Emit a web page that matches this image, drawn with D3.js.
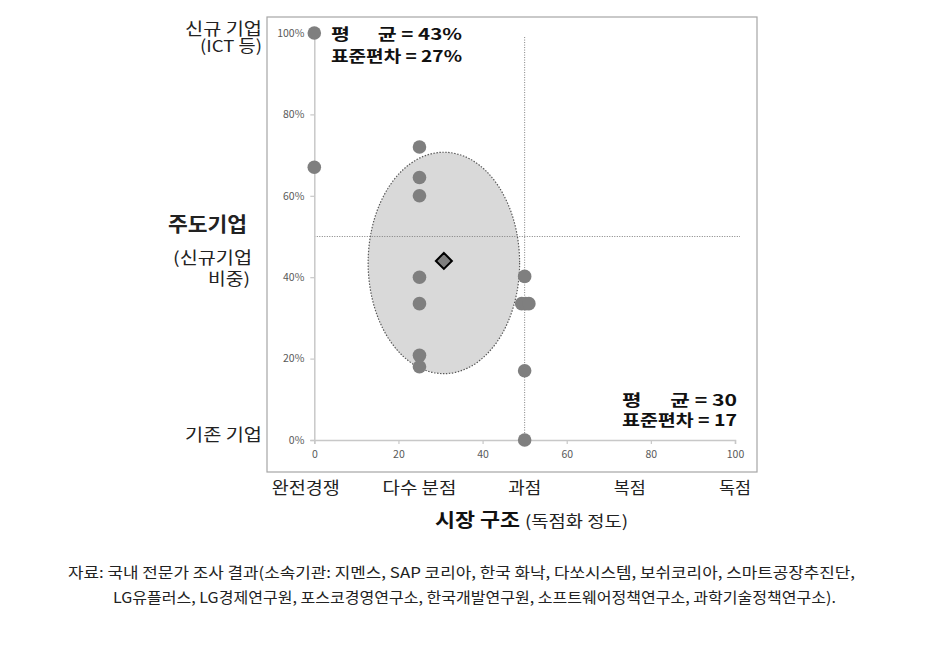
<!DOCTYPE html>
<html>
<head>
<meta charset="utf-8">
<title>시장 구조와 주도기업</title>
<script src="https://d3js.org/d3.v7.min.js"></script>
<style>
  body { margin: 0; background: #fff; }
  text { font-family: "Noto Sans CJK KR", "Noto Sans", sans-serif; }
</style>
</head>
<body>
<div id="chart"></div>
<script>
// survey responses: market structure score (x) and share of new firms (y, %)
const xVals = [0, 0, 25, 25, 25, 25, 25, 25, 25, 50, 49.3, 50.2, 51, 50, 50];
const yVals = [100, 67, 72, 64.5, 60, 40, 33.5, 20.8, 18, 40.2, 33.5, 33.5, 33.5, 17, 0];
const meanPoint = [30.8, 44];
const ellipseCenter = [30.8, 43.5];
const ellipseRadius = [18, 27.2];
const xTicks = [0, 20, 40, 60, 80, 100];
const yTicks = [0, 20, 40, 60, 80, 100];
const categories = ["완전경쟁", "다수 분점", "과점", "복점", "독점"];
const categoryPos = [-2, 25, 50, 75, 100];
const statsY = ["평      균 = 43%", "표준편차 = 27%"];
const statsX = ["평      균 = 30", "표준편차 = 17"];
const sourceLines = [
  "자료: 국내 전문가 조사 결과(소속기관: 지멘스, SAP 코리아, 한국 화낙, 다쏘시스템, 보쉬코리아, 스마트공장추진단,",
  "LG유플러스, LG경제연구원, 포스코경영연구소, 한국개발연구원, 소프트웨어정책연구소, 과학기술정책연구소)."
];

const W = 947, H = 645;
const svg = d3.select("#chart").append("svg").attr("width", W).attr("height", H);

const x = d3.scaleLinear().domain([0, 100]).range([314.3, 735]);
const y = d3.scaleLinear().domain([0, 100]).range([440, 33]);

// outer frame
svg.append("rect").attr("x", 267).attr("y", 17).attr("width", 490).attr("height", 455)
  .attr("fill", "none").attr("stroke", "#a6a6a6").attr("stroke-width", 1.2);

// ellipse (mean ± sd)
svg.append("ellipse")
  .attr("cx", x(ellipseCenter[0])).attr("cy", y(ellipseCenter[1]))
  .attr("rx", x(ellipseRadius[0]) - x(0)).attr("ry", y(0) - y(ellipseRadius[1]))
  .attr("fill", "#d9d9d9").attr("stroke", "#595959").attr("stroke-width", 1.2)
  .attr("stroke-dasharray", "1.5,1.5");

// reference dotted lines
svg.append("line").attr("x1", x(0)).attr("x2", x(100) + 5).attr("y1", y(50)).attr("y2", y(50))
  .attr("stroke", "#7f7f7f").attr("stroke-width", 1).attr("stroke-dasharray", "1,1.5");
svg.append("line").attr("x1", x(50)).attr("x2", x(50)).attr("y1", y(99)).attr("y2", y(0))
  .attr("stroke", "#7f7f7f").attr("stroke-width", 1).attr("stroke-dasharray", "1,1.5");

// axes
const xAxis = svg.append("g").attr("transform", `translate(0,${y(0)})`)
  .call(d3.axisBottom(x).tickValues(xTicks).tickSize(4).tickPadding(7));
const yAxis = svg.append("g").attr("transform", `translate(${x(0)},0)`)
  .call(d3.axisLeft(y).tickValues(yTicks).tickSize(4).tickPadding(6).tickFormat(d => d + "%"));
[xAxis, yAxis].forEach(a => {
  a.select(".domain").attr("stroke", "#c8c8c8").attr("stroke-width", 1.5);
  a.selectAll(".tick line").attr("stroke", "#c8c8c8").attr("stroke-width", 1.2);
  a.selectAll(".tick text").attr("fill", "#595959").style("font-size", "10.5px")
    .style("font-family", "'Noto Sans CJK KR', sans-serif");
});

// points
svg.append("g").selectAll("circle").data(xVals).join("circle")
  .attr("cx", d => x(d)).attr("cy", (d, i) => y(yVals[i])).attr("r", 6.8)
  .attr("fill", "#7f7f7f");

// mean diamond
const dm = 8;
svg.append("path")
  .attr("d", `M0,${-dm}L${dm},0L0,${dm}L${-dm},0Z`)
  .attr("transform", `translate(${x(meanPoint[0])},${y(meanPoint[1])})`)
  .attr("fill", "#7f7f7f").attr("stroke", "#000").attr("stroke-width", 2);

// stats boxes
svg.append("g").selectAll("text").data(statsY).join("text")
  .attr("x", 331).attr("y", (d, i) => 40 + i * 21.5)
  .attr("font-size", 16).attr("font-weight", "bold").attr("fill", "#111")
  .attr("textLength", 131).attr("lengthAdjust", "spacingAndGlyphs")
  .style("white-space", "pre").text(d => d);
svg.append("g").selectAll("text").data(statsX).join("text")
  .attr("x", 622).attr("y", (d, i) => 406 + i * 20)
  .attr("font-size", 16).attr("font-weight", "bold").attr("fill", "#111")
  .attr("textLength", 115).attr("lengthAdjust", "spacingAndGlyphs")
  .style("white-space", "pre").text(d => d);

// x category labels
const catLen = [68, 74, 33, 32, 32];
svg.append("g").selectAll("text").data(categories).join("text")
  .attr("x", (d, i) => x(categoryPos[i]) - catLen[i] / 2).attr("y", 494)
  .attr("font-size", 16.5).attr("fill", "#222")
  .attr("textLength", (d, i) => catLen[i]).attr("lengthAdjust", "spacingAndGlyphs")
  .text(d => d);

// x title
svg.append("text").attr("x", 435).attr("y", 527).attr("fill", "#111")
  .attr("font-size", 19.5).attr("font-weight", "bold")
  .attr("textLength", 85).attr("lengthAdjust", "spacingAndGlyphs").text("시장 구조");
svg.append("text").attr("x", 525).attr("y", 527).attr("fill", "#222")
  .attr("font-size", 16)
  .attr("textLength", 103).attr("lengthAdjust", "spacingAndGlyphs").text("(독점화 정도)");

// y labels (multi-line labels as one text with tspans)
const left = [
  [{ t: "신규 기업", x: 262, y: 35, w: 77 }, { t: "(ICT 등)", x: 262, y: 52, w: 62 }],
  [{ t: "주도기업", x: 247, y: 232, w: 79, b: true }],
  [{ t: "(신규기업", x: 252, y: 264, w: 79 }, { t: "비중)", x: 250, y: 285, w: 42 }],
  [{ t: "기존 기업", x: 262, y: 441, w: 77 }]
];
left.forEach(lines => {
  const t = svg.append("text").attr("fill", "#222")
    .attr("font-size", lines[0].b ? 20 : 16.5)
    .attr("font-weight", lines[0].b ? "bold" : "normal");
  lines.forEach(l => {
    t.append("tspan").attr("x", l.x - l.w).attr("y", l.y)
      .attr("textLength", l.w).attr("lengthAdjust", "spacingAndGlyphs").text(l.t);
  });
});

// source note
svg.append("g").selectAll("text").data(sourceLines).join("text")
  .attr("x", (d, i) => i ? 113 : 68).attr("y", (d, i) => 578 + i * 25)
  .attr("font-size", 15).attr("fill", "#222")
  .attr("textLength", (d, i) => i ? 723 : 787).attr("lengthAdjust", "spacingAndGlyphs")
  .text(d => d);
</script>
</body>
</html>
